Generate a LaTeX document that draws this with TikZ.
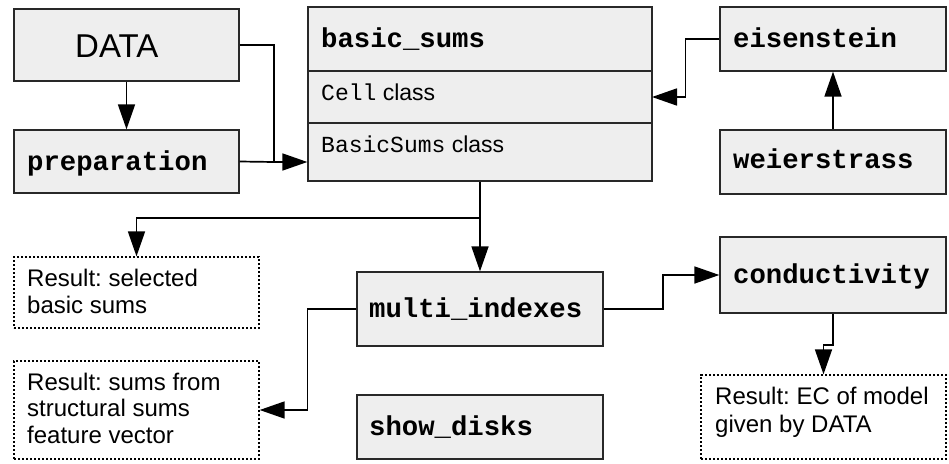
\documentclass[tikz,border=0pt]{standalone}
\usepackage{fontspec}
\setmainfont{Liberation Sans}
\setmonofont{Liberation Mono}
\usetikzlibrary{arrows.meta}
\definecolor{boxfill}{RGB}{238,238,238}
\definecolor{boxline}{RGB}{40,40,40}
\frenchspacing
\begin{document}
\begin{tikzpicture}[x=1pt,y=-1pt,
  box/.style={draw=boxline,line width=1.3pt,fill=boxfill,inner sep=0pt},
  resbox/.style={draw=black,line width=1.3pt,dash pattern=on 2.2pt off 1.8pt,inner sep=0pt},
  lbl/.style={anchor=base west,inner sep=0pt,font=\fontsize{27.3}{32}\selectfont\ttfamily\bfseries},
  small/.style={anchor=base west,inner sep=0pt,font=\fontsize{23}{27}\selectfont},
  restext/.style={anchor=base west,inner sep=0pt,align=left,font=\fontsize{24}{26.5}\selectfont},
  line/.style={draw=black,line width=1.7pt},
  arr/.style={line,-{Triangle[length=25pt,width=17pt]}}]
\useasboundingbox (0,0) rectangle (949,463);

% boxes
\node[box,minimum width=225pt,minimum height=72pt] (data) at (126.5,45) {};
\node[box,minimum width=225pt,minimum height=63pt] (prep) at (126.5,161.5) {};
\node[box,minimum width=344pt,minimum height=174pt] (bs) at (480,94) {};
\node[box,minimum width=226pt,minimum height=64pt] (eis) at (833,39) {};
\node[box,minimum width=226pt,minimum height=64pt] (wei) at (833,162) {};
\node[box,minimum width=246pt,minimum height=74pt] (mi) at (480,309) {};
\node[box,minimum width=246pt,minimum height=64pt] (sd) at (480,427) {};
\node[box,minimum width=226pt,minimum height=76pt] (cond) at (833,275) {};
\node[resbox,minimum width=245pt,minimum height=71pt] (r1) at (136.5,292.5) {};
\node[resbox,minimum width=245pt,minimum height=98pt] (r2) at (136.5,410) {};
\node[resbox,minimum width=245pt,minimum height=84pt] (r3) at (823.5,417) {};

% dividers of basic_sums
\draw[draw=boxline,line width=1.3pt] (bs.west |- 0,71) coordinate (d1w) -- (bs.east |- 0,71) coordinate (d1e);
\draw[draw=boxline,line width=1.3pt] (bs.west |- 0,123) coordinate (d2w) -- (bs.east |- 0,123) coordinate (d2e);

% texts
\node[anchor=base west,inner sep=0pt,font=\fontsize{33}{38}\selectfont] (tdata) at (75,57) {DATA};
\node[lbl] (tprep) at (27,170) {preparation};
\node[lbl] (tbs) at (321,47) {basic\_sums};
\node[small] (tcell) at (321,100) {\texttt{Cell} class};
\node[small] (tbsc) at (321,152) {\texttt{BasicSums} class};
\node[lbl] (teis) at (733,47) {eisenstein};
\node[lbl] (twei) at (733,168) {weierstrass};
\node[lbl] (tmi) at (369,317) {multi\_indexes};
\node[lbl] (tsd) at (369,435) {show\_disks};
\node[lbl] (tcond) at (733,283) {conductivity};
\node[restext] (tr1) at (27,313) {Result: selected\\basic sums};
\node[restext] (tr2) at (27,443) {Result: sums from\\structural sums\\feature vector};
\node[restext,font=\fontsize{24}{28}\selectfont] (tr3) at (715,432) {Result: EC of model\\given by DATA};

% connectors
\coordinate (j) at (274,162);
\coordinate (k) at (480,218);
\coordinate (cellsec) at (652,97);
\draw[arr] (data.south) -- (prep.north);
\draw[line] (data.east) -| (j);
\draw[line] (prep.east) -- (j);
\draw[arr] (j) -- (j -| bs.west);
\draw[arr] (eis.west) -- ++(-34,0) |- (cellsec);
\draw[arr] (wei.north) -- (eis.south);
\draw[arr] (bs.south) -- (mi.north);
\draw[arr] (k) -| (r1.north);
\draw[arr] (mi.west) -- ++(-49,0) |- (r2.east);
\draw[arr] (mi.east) -- ++(59,0) |- (cond.west);
\draw[arr] (cond.south) -- ++(0,31) -| (r3.north);
\end{tikzpicture}
\end{document}
